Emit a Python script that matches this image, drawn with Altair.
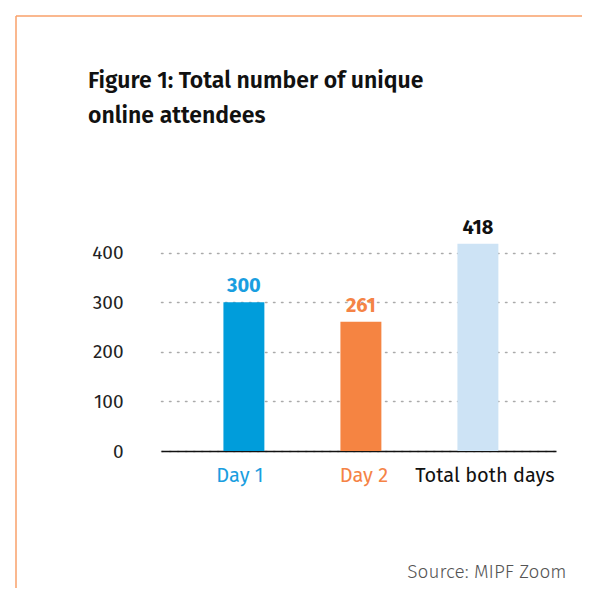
import altair as alt
import pandas as pd

categories = ["Day 1", "Day 2", "Total both days"]
values = [300, 261, 418]
bar_colors = ["#009ddb", "#f58442", "#cde3f5"]
label_colors = ["#1a9ee0", "#f58346", "#111111"]
y_ticks = [0, 100, 200, 300, 400]
title_lines = ["Figure 1: Total number of unique", "online attendees"]
source_text = "Source: MIPF Zoom"

df = pd.DataFrame({"cat": categories, "val": values,
                   "bar": bar_colors, "lab": label_colors})

FONT = "Fira Sans, Open Sans, sans-serif"

xscale = alt.Scale(domain=categories, paddingInner=0.65, paddingOuter=0.513, align=0.52)
yscale = alt.Scale(domain=[0, 450], nice=False)

base = alt.Chart(df)

bars = base.mark_bar().encode(
    x=alt.X("cat:N", scale=xscale, sort=categories,
            axis=alt.Axis(title=source_text, labelAngle=0, ticks=False,
                          domainColor="#111111", domainWidth=1.5,
                          labelFont=FONT, labelFontSize=20, labelPadding=14,
                          labelColor=alt.expr("datum.value == 'Day 1' ? '#1a9ee0' : datum.value == 'Day 2' ? '#f58346' : '#111111'"),
                          labelOffset=alt.expr("datum.value == 'Day 1' ? -4 : datum.value == 'Day 2' ? 3 : 7"),
                          titleFont=FONT, titleFontSize=19, titleFontWeight=300,
                          titleColor="#555555", titleAnchor="end", titleAlign="right",
                          titleBaseline="alphabetic", titleX=405, titleY=126)),
    y=alt.Y("val:Q", scale=yscale,
            axis=alt.Axis(title=None, values=y_ticks, domain=False, ticks=False,
                          labelFont=FONT, labelFontSize=19, labelColor="#222222",
                          labelPadding=38, grid=True, gridColor="#aaaaaa",
                          gridDash=[1.5, 6.5], gridWidth=1.5, gridCap="round")),
    color=alt.Color("bar:N", scale=None),
)

text = base.mark_text(font=FONT, fontSize=20, fontWeight="bold", dy=-10,
                      baseline="alphabetic").encode(
    x=alt.X("cat:N", scale=xscale, sort=categories),
    y=alt.Y("val:Q", scale=yscale),
    text=alt.Text("val:Q"),
    color=alt.Color("lab:N", scale=None),
)

one = alt.Data(values=[{}])

title = alt.Chart(one).mark_text(
    text=title_lines, font=FONT, fontSize=23, fontWeight=600, color="#111111",
    align="left", baseline="alphabetic", lineHeight=35,
).encode(x=alt.value(-73), y=alt.value(-140))

border_color = "#f9a06a"
left_border = alt.Chart(one).mark_rule(color=border_color, strokeWidth=1.5).encode(
    x=alt.value(-145), y=alt.value(-212), y2=alt.value(380))
top_border = alt.Chart(one).mark_rule(color=border_color, strokeWidth=1.5).encode(
    x=alt.value(-145), x2=alt.value(440), y=alt.value(-212))

chart = alt.layer(bars, text, title, left_border, top_border).properties(
    width=395, height=223,
    autosize=alt.AutoSizeParams(type="none"),
    padding={"left": 153, "top": 220, "right": 26, "bottom": 137},
).configure(background="white").configure_view(stroke=None)

chart.save("out.html", embed_options={"renderer": "svg", "actions": False})
